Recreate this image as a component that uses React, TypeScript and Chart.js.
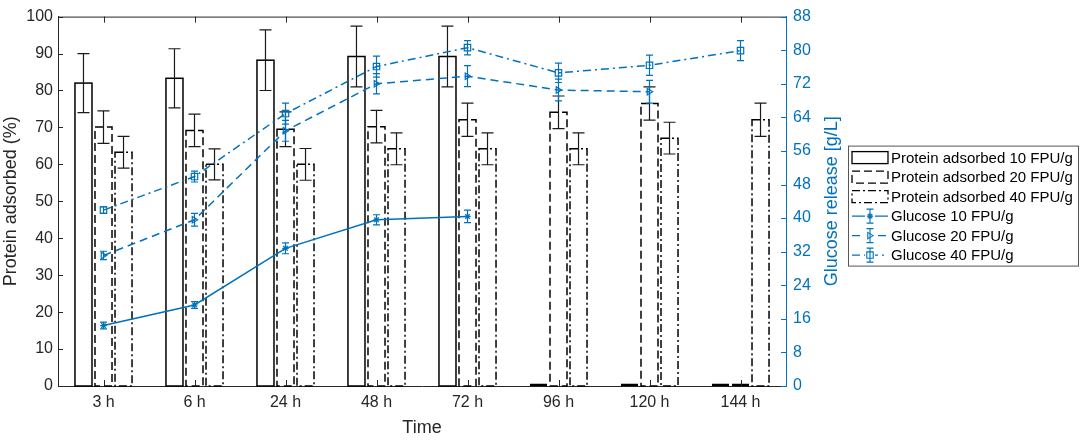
import React, { useEffect, useRef } from "react";
import { Chart, registerables } from "chart.js";

Chart.register(...registerables);

const categories = ["3 h", "6 h", "24 h", "48 h", "72 h", "96 h", "120 h", "144 h"];

const protein10 = [82.0, 83.3, 88.2, 89.2, 89.2, 0, 0, 0];
const protein10Err = [8.0, 8.0, 8.2, 8.2, 8.2, 0, 0, 0];
const protein20 = [70.1, 69.2, 69.5, 70.2, 72.1, 74.1, 76.5, 0];
const protein20Err = [4.4, 4.4, 4.7, 4.4, 4.5, 4.4, 4.5, 0];
const protein40 = [63.3, 60.0, 60.0, 64.2, 64.2, 64.2, 67.1, 72.1];
const protein40Err = [4.3, 4.2, 4.3, 4.3, 4.3, 4.3, 4.3, 4.5];

const glucose10 = [14.4, 19.3, 32.8, 39.6, 40.4, null, null, null];
const glucose10Err = [0.8, 0.8, 1.3, 1.2, 1.5, 0, 0, 0];
const glucose20 = [31.1, 39.6, 60.8, 72.0, 73.8, 70.5, 70.1, null];
const glucose20Err = [1.0, 1.5, 2.5, 2.4, 2.5, 2.6, 2.7, 0];
const glucose40 = [41.9, 49.9, 64.9, 76.1, 80.6, 74.6, 76.4, 79.9];
const glucose40Err = [0.8, 1.3, 2.5, 2.5, 1.7, 2.3, 2.4, 2.4];

const leftMin = 0;
const leftMax = 100;
const leftStep = 10;
const rightMin = 0;
const rightMax = 88;
const rightStep = 8;

const barLabels = ["Protein adsorbed 10 FPU/g", "Protein adsorbed 20 FPU/g", "Protein adsorbed 40 FPU/g"];
const lineLabels = ["Glucose 10 FPU/g", "Glucose 20 FPU/g", "Glucose 40 FPU/g"];

const AXIS = "#262626";
const BLUE = "#0072BD";
const FONT = "'Liberation Sans', Arial, Helvetica, sans-serif";

const BAR_DASHES = [[], [8, 4], [8, 3, 2, 3]];
const LINE_DASHES = [[], [8, 5], [8, 4, 2, 4]];

function drawMarker(ctx: CanvasRenderingContext2D, style: string, x: number, y: number, r: number) {
  ctx.save();
  ctx.setLineDash([]);
  ctx.beginPath();
  if (style === "star") {
    ctx.moveTo(x - r, y); ctx.lineTo(x + r, y);
    ctx.moveTo(x, y - r); ctx.lineTo(x, y + r);
    const d = r * 0.72;
    ctx.moveTo(x - d, y - d); ctx.lineTo(x + d, y + d);
    ctx.moveTo(x - d, y + d); ctx.lineTo(x + d, y - d);
  } else if (style === "triangle") {
    ctx.moveTo(x + r, y);
    ctx.lineTo(x - r * 0.7, y - r);
    ctx.lineTo(x - r * 0.7, y + r);
    ctx.closePath();
  } else {
    ctx.rect(x - r, y - r, 2 * r, 2 * r);
  }
  ctx.stroke();
  ctx.restore();
}

const customPlugin = {
  id: "matlabStyle",
  afterDatasetDraw(chart: any, args: any) {
    const ctx: CanvasRenderingContext2D = chart.ctx;
    const ds: any = chart.data.datasets[args.index];
    const meta = args.meta;
    const area = chart.chartArea;
    ctx.save();
    ctx.beginPath();
    ctx.rect(area.left, area.top - 2, area.right - area.left, area.bottom - area.top + 4);
    ctx.clip();
    if (ds.kind === "bar") {
      const yScale = chart.scales.y;
      meta.data.forEach((el: any, i: number) => {
        const p = el.getProps(["x", "y", "base", "width"], true);
        const v = ds.data[i];
        ctx.strokeStyle = "#000";
        if (!v) {
          ctx.setLineDash([]);
          ctx.lineWidth = 2.5;
          ctx.beginPath();
          ctx.moveTo(p.x - p.width / 2, p.base - 1);
          ctx.lineTo(p.x + p.width / 2, p.base - 1);
          ctx.stroke();
          return;
        }
        ctx.lineWidth = 1.5;
        ctx.setLineDash(ds.outlineDash);
        ctx.strokeRect(p.x - p.width / 2, p.y, p.width, p.base - p.y);
        const e = ds.errors[i];
        if (e) {
          const t = yScale.getPixelForValue(v + e);
          const b = yScale.getPixelForValue(v - e);
          ctx.setLineDash([]);
          ctx.lineWidth = 1.2;
          ctx.strokeStyle = "#1a1a1a";
          ctx.beginPath();
          ctx.moveTo(p.x, t); ctx.lineTo(p.x, b);
          ctx.moveTo(p.x - 6, t); ctx.lineTo(p.x + 6, t);
          ctx.moveTo(p.x - 6, b); ctx.lineTo(p.x + 6, b);
          ctx.stroke();
        }
      });
    } else if (ds.type === "line") {
      const yScale = chart.scales.y1;
      ctx.strokeStyle = BLUE;
      meta.data.forEach((el: any, i: number) => {
        const v = ds.data[i];
        if (v === null || v === undefined) return;
        const p = el.getProps(["x", "y"], true);
        const e = ds.errors[i];
        const t = yScale.getPixelForValue(v + e);
        const b = yScale.getPixelForValue(v - e);
        ctx.setLineDash([]);
        ctx.lineWidth = 1.2;
        ctx.beginPath();
        ctx.moveTo(p.x, t); ctx.lineTo(p.x, b);
        ctx.moveTo(p.x - 3.5, t); ctx.lineTo(p.x + 3.5, t);
        ctx.moveTo(p.x - 3.5, b); ctx.lineTo(p.x + 3.5, b);
        ctx.stroke();
        ctx.lineWidth = 1.2;
        drawMarker(ctx, ds.marker, p.x, p.y, 3.2);
      });
    }
    ctx.restore();
  },
  afterDraw(chart: any) {
    const ctx: CanvasRenderingContext2D = chart.ctx;
    const area = chart.chartArea;
    const xs = chart.scales.x;
    const yl = chart.scales.y;
    const yr = chart.scales.y1;
    ctx.save();
    ctx.setLineDash([]);
    ctx.strokeStyle = AXIS;
    ctx.lineWidth = 1;
    ctx.beginPath();
    ctx.moveTo(area.left, area.top + 0.5);
    ctx.lineTo(area.right, area.top + 0.5);
    ctx.stroke();
    ctx.beginPath();
    for (let i = 0; i < categories.length; i++) {
      const x = Math.round(xs.getPixelForTick(i)) + 0.5;
      ctx.moveTo(x, area.bottom); ctx.lineTo(x, area.bottom - 6);
      ctx.moveTo(x, area.top); ctx.lineTo(x, area.top + 6);
    }
    for (let v = leftMin; v <= leftMax; v += leftStep) {
      const y = Math.round(yl.getPixelForValue(v)) + 0.5;
      ctx.moveTo(area.left, y); ctx.lineTo(area.left + 5, y);
    }
    ctx.stroke();
    ctx.strokeStyle = BLUE;
    ctx.beginPath();
    for (let v = rightMin; v <= rightMax; v += rightStep) {
      const y = Math.round(yr.getPixelForValue(v)) + 0.5;
      ctx.moveTo(area.right, y); ctx.lineTo(area.right - 5, y);
    }
    ctx.stroke();
    ctx.fillStyle = BLUE;
    ctx.font = `18px ${FONT}`;
    ctx.textAlign = "center";
    ctx.textBaseline = "middle";
    ctx.save();
    ctx.translate(area.right + 46, (area.top + area.bottom) / 2);
    ctx.rotate(-Math.PI / 2);
    ctx.fillText("Glucose release [g/L]", 0, 0);
    ctx.restore();

    const x0 = area.right + 62;
    const y0 = area.top + 129;
    const w = 230;
    const h = 120;
    ctx.fillStyle = "#fff";
    ctx.fillRect(x0, y0, w, h);
    ctx.strokeStyle = "#555";
    ctx.lineWidth = 1;
    ctx.strokeRect(x0 + 0.5, y0 + 0.5, w, h);
    ctx.font = `15px ${FONT}`;
    ctx.textAlign = "left";
    ctx.textBaseline = "middle";
    const rowH = 19.5;
    for (let k = 0; k < 3; k++) {
      const ry = y0 + 12 + k * rowH;
      ctx.strokeStyle = "#000";
      ctx.lineWidth = 1.3;
      ctx.setLineDash(BAR_DASHES[k]);
      ctx.strokeRect(x0 + 4, ry - 6, 36, 12);
      ctx.setLineDash([]);
      ctx.fillStyle = "#000";
      ctx.fillText(barLabels[k], x0 + 43, ry + 1);
    }
    const markers = ["star", "triangle", "rect"];
    for (let k = 0; k < 3; k++) {
      const ry = y0 + 12 + (k + 3) * rowH;
      ctx.strokeStyle = BLUE;
      ctx.lineWidth = 1.3;
      ctx.setLineDash(LINE_DASHES[k]);
      ctx.beginPath();
      ctx.moveTo(x0 + 4, ry); ctx.lineTo(x0 + 40, ry);
      ctx.stroke();
      ctx.setLineDash([]);
      const mx = x0 + 22;
      ctx.lineWidth = 1.1;
      ctx.fillStyle = "#fff";
      ctx.fillRect(mx - 5, ry - 8, 10, 16);
      ctx.beginPath();
      ctx.moveTo(mx, ry - 7); ctx.lineTo(mx, ry + 7);
      ctx.moveTo(mx - 3.5, ry - 7); ctx.lineTo(mx + 3.5, ry - 7);
      ctx.moveTo(mx - 3.5, ry + 7); ctx.lineTo(mx + 3.5, ry + 7);
      ctx.stroke();
      drawMarker(ctx, markers[k], mx, ry, 3.2);
      ctx.fillStyle = "#000";
      ctx.fillText(lineLabels[k], x0 + 43, ry + 1);
    }
    ctx.restore();
  },
};

export default function App() {
  const ref = useRef<HTMLCanvasElement>(null);
  useEffect(() => {
    document.body.style.margin = "0";
    Chart.defaults.font.family = FONT;
    const barDs = [protein10, protein20, protein40].map((d, k) => ({
      type: "bar" as const,
      kind: "bar",
      label: barLabels[k],
      data: d,
      errors: [protein10Err, protein20Err, protein40Err][k],
      outlineDash: BAR_DASHES[k],
      backgroundColor: "#ffffff",
      borderWidth: 0,
      yAxisID: "y",
      order: 2,
      categoryPercentage: 0.66,
      barPercentage: 0.85,
    }));
    const markers = ["star", "triangle", "rect"];
    const lineDs = [glucose10, glucose20, glucose40].map((d, k) => ({
      type: "line" as const,
      label: lineLabels[k],
      data: d,
      errors: [glucose10Err, glucose20Err, glucose40Err][k],
      marker: markers[k],
      borderColor: BLUE,
      borderWidth: 1.5,
      borderDash: LINE_DASHES[k],
      pointRadius: 0,
      tension: 0,
      spanGaps: false,
      fill: false,
      yAxisID: "y1",
      order: 1,
    }));
    const chart = new Chart(ref.current as HTMLCanvasElement, {
      type: "bar",
      data: { labels: categories, datasets: [...barDs, ...lineDs] as any },
      options: {
        responsive: false,
        animation: false,
        events: [],
        layout: { padding: { top: 8, left: 0, right: 0, bottom: 0 } },
        plugins: { legend: { display: false }, tooltip: { enabled: false } },
        scales: {
          x: {
            type: "category",
            offset: true,
            grid: { display: false, drawTicks: false },
            border: { display: true, color: AXIS, width: 1 },
            ticks: { color: AXIS, font: { size: 16 }, padding: 7, maxRotation: 0 },
            title: { display: true, text: "Time", color: AXIS, font: { size: 18 }, padding: { top: 0, bottom: 1 } },
            afterFit: (s: any) => { s.height = 54; },
          },
          y: {
            position: "left",
            min: leftMin,
            max: leftMax,
            grid: { display: false, drawTicks: false },
            border: { display: true, color: AXIS, width: 1 },
            ticks: { stepSize: leftStep, color: AXIS, font: { size: 16 }, padding: 5 },
            title: { display: true, text: "Protein adsorbed (%)", color: AXIS, font: { size: 18 }, padding: { top: 0, bottom: 0 } },
            afterFit: (s: any) => { s.width = 58; },
          },
          y1: {
            position: "right",
            min: rightMin,
            max: rightMax,
            grid: { display: false, drawTicks: false },
            border: { display: true, color: BLUE, width: 1 },
            ticks: { stepSize: rightStep, color: BLUE, font: { size: 16 }, padding: 7 },
            afterFit: (s: any) => { s.width = 298; },
          },
        },
      } as any,
      plugins: [customPlugin],
    });
    return () => chart.destroy();
  }, []);
  return (
    <div style={{ position: "absolute", left: 0, top: 0, width: 1084, height: 440, background: "#fff" }}>
      <canvas ref={ref} width={1084} height={440} style={{ width: 1084, height: 440, display: "block" }} />
    </div>
  );
}
